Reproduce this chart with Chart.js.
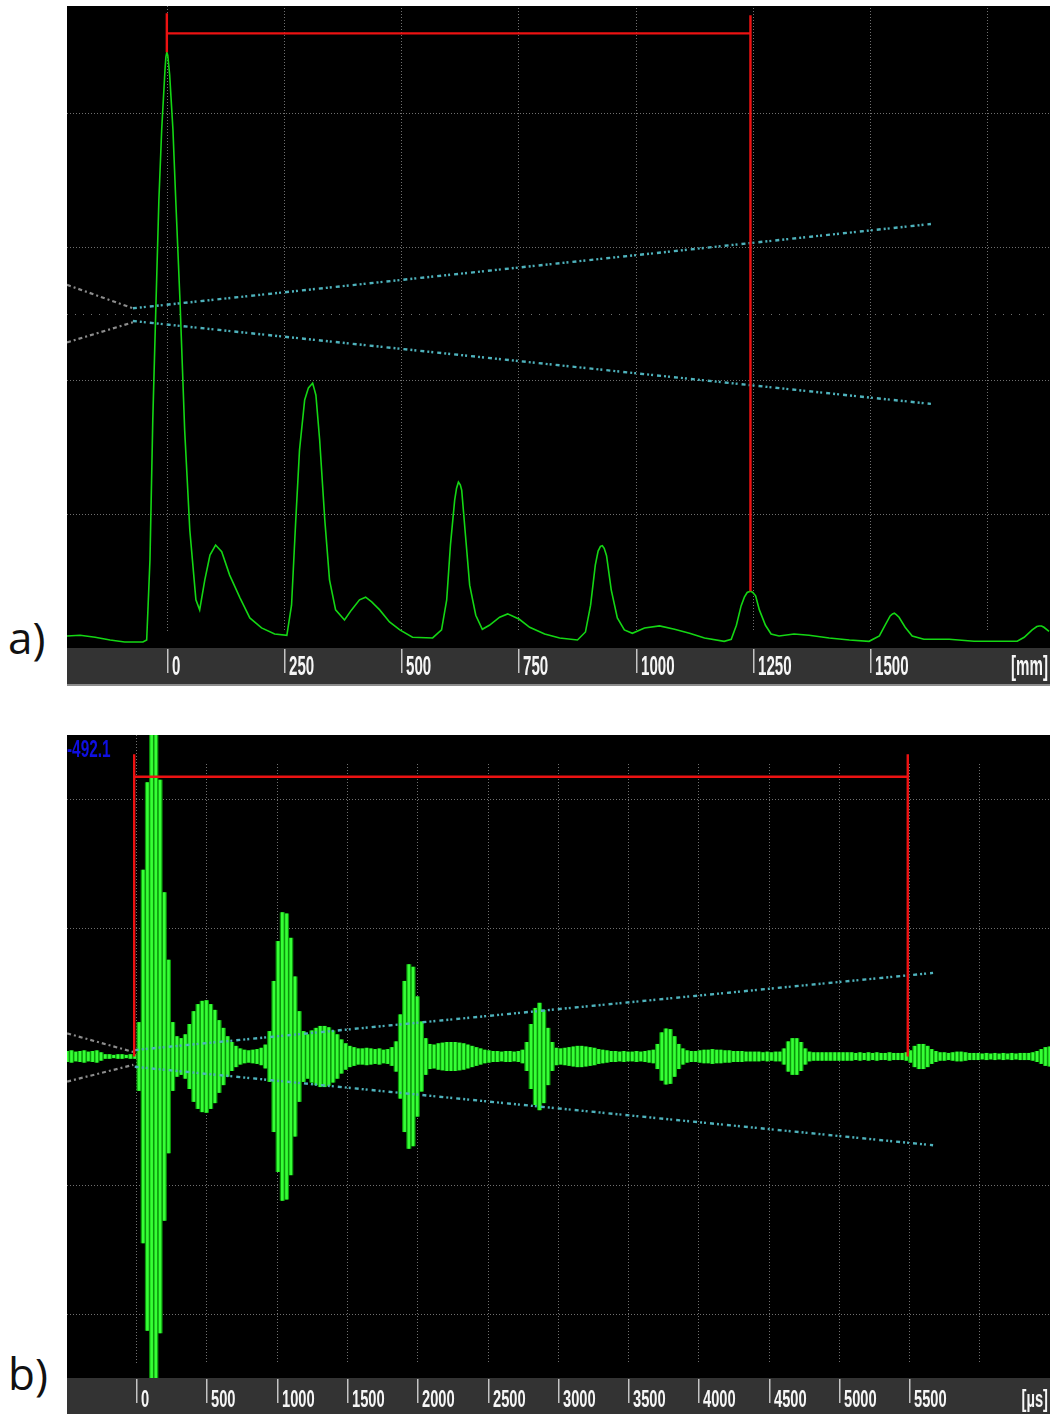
<!DOCTYPE html>
<html>
<head>
<meta charset="utf-8">
<script src="https://cdn.jsdelivr.net/npm/chart.js@4.4.1/dist/chart.umd.min.js"></script>
<style>
  body { margin: 0; background: #fff; width: 1057px; height: 1414px; position: relative; overflow: hidden; }
  .scope { position: absolute; left: 67px; }
  #scopeA { top: 6px; }
  #scopeB { top: 735px; }
  .tag { position: absolute; font-family: "Open Sans", sans-serif; font-size: 44px; line-height: 44px; color: #111; }
</style>
</head>
<body>
<div class="tag" style="left:8px;top:615px">a)</div>
<div class="tag" style="left:8px;top:1351px">b)</div>
<canvas id="scopeA" class="scope" width="983" height="680"></canvas>
<canvas id="scopeB" class="scope" width="983" height="679"></canvas>
<script>
// ---- a) rectified A-scan, distance in mm, amplitude in % screen height ----
const mmA = [-213, -185, -153, -121, -90, -51, -43, -36, -30, -23, -17, -11, -4, -2, 0, 2, 6, 13, 19, 28, 38, 49, 62, 70,
  81, 92, 104, 117, 134, 156, 177, 202, 230, 256, 266, 275, 283, 294, 302, 307, 311, 315, 318, 326, 337, 347, 360, 379,
  394, 411, 424, 437, 454, 475, 497, 524, 567, 586, 597, 605, 614, 618, 622, 626, 629, 637, 646, 659, 673, 688, 710, 727,
  752, 774, 806, 838, 876, 893, 904, 914, 920, 925, 929, 933, 938, 948, 961, 976, 993, 1019, 1051, 1083, 1115, 1147, 1189,
  1204, 1215, 1225, 1232, 1238, 1245, 1250, 1256, 1264, 1277, 1289, 1306, 1338, 1370, 1413, 1456, 1498, 1520, 1532, 1543,
  1548, 1552, 1556, 1562, 1575, 1590, 1615, 1669, 1722, 1775, 1814, 1829, 1846, 1856, 1861, 1866, 1871, 1882];
const ampA = [1.8, 1.9, 1.6, 1.2, 0.9, 0.9, 1.2, 13.2, 34.1, 52.0, 67.0, 77.5, 86.4, 88.4, 89.1, 88.6, 85.7, 77.5, 67.0, 52.0,
  32.6, 17.6, 7.2, 5.7, 10.2, 13.9, 15.4, 14.4, 10.9, 7.5, 4.5, 3.0, 2.1, 1.9, 6.4, 19.1, 29.6, 37.1, 38.9, 39.3, 39.6,
  38.6, 37.8, 31.1, 19.1, 10.2, 5.7, 4.2, 5.7, 7.2, 7.6, 6.9, 5.7, 3.9, 2.7, 1.6, 1.5, 2.7, 7.2, 15.4, 22.1, 23.9, 24.8,
  24.4, 23.6, 16.9, 9.4, 4.9, 2.8, 3.4, 4.6, 5.1, 4.3, 3.1, 2.1, 1.5, 1.2, 2.4, 6.4, 12.4, 14.5, 15.2, 15.3, 14.9, 13.8,
  8.7, 4.5, 2.7, 2.2, 3.0, 3.3, 2.8, 2.2, 1.5, 1.0, 1.3, 3.4, 6.3, 7.6, 8.3, 8.5, 8.3, 7.8, 5.7, 3.4, 2.1, 1.8, 2.1,
  1.9, 1.5, 1.2, 1.0, 1.8, 3.4, 4.8, 5.1, 5.2, 5.0, 4.6, 3.1, 1.8, 1.3, 1.3, 1.0, 1.0, 1.0, 1.6, 2.7, 3.2, 3.3, 3.3,
  3.1, 2.5];
const gridMmA = [0, 250, 500, 750, 1000, 1250, 1500, 1750];
const tickMmA = [0, 250, 500, 750, 1000, 1250, 1500];
const gridPctA = [20, 40, 60, 80];
// gate marker and the two DAC reference curves
const gateA = { start: 0, end: 1245, level: 91.9, top: 94.9 };
const dacUpperA = [[-72.5, 50.8], [1630, 63.4]];
const dacLowerA = [[-72.5, 48.9], [1630, 36.5]];
const dacLeadA = [[[-213, 54.3], [-72.5, 50.8]], [[-213, 45.7], [-72.5, 48.7]]];

// ---- b) RF signal, time in µs; peak envelope per sample in % screen height (±50) ----
const startB = -492.1;
const t0B = -490, dtB = 30;   // digitizer sample spacing
const envB = [0.8, 0.9, 0.7, 0.8, 0.9, 0.7, 0.8, 0.9, 0.6,
  0.3, 0.3, 0.2, 0.3, 0.3, 0.2, 0.3, 0.3,
  5.3, 29, 42.6, 51, 51, 43, 25.5, 15, 5.3,
  3.1, 2.8,
  3.4, 5.0, 7.0, 8.1, 8.6, 8.7, 8.1, 7.2, 5.6, 4.4, 3.1, 2.2, 1.6,
  1.2, 1.0, 0.9, 1.0, 1.1, 1.3, 1.8,
  3.9, 11.7, 17.9, 22.4, 22.2, 18.4, 12.4, 7.0, 3.9,
  3.4, 4.0, 4.4, 4.7, 4.7, 4.5, 4.0, 3.4, 2.6, 2.0,
  1.6, 1.4, 1.2, 1.2, 1.3, 1.2, 1.1, 1.2, 1.0, 1.1, 1.4,
  2.3, 6.5, 11.7, 14.3, 13.9, 9.3, 5.4, 2.8, 1.9,
  1.8, 2.0, 2.1, 2.2, 2.2, 2.2, 2.1, 2.0, 1.8, 1.6, 1.4, 1.2, 1.0, 0.9, 0.8, 0.8, 0.7, 0.8, 0.8, 0.7, 0.8, 1.0,
  2.2, 5.0, 7.5, 8.3, 7.2, 4.4, 2.2,
  1.3, 1.2, 1.3, 1.4, 1.5, 1.6, 1.6, 1.5, 1.4, 1.3, 1.1, 1.0, 0.9, 0.8, 0.8, 0.7, 0.8, 0.7, 0.7, 0.8, 0.7, 0.8, 0.9, 1.0,
  1.9, 3.7, 4.3, 4.2, 3.1, 1.9,
  1.2, 0.9, 0.8, 0.8, 0.9, 1.0, 1.0, 1.1, 1.0, 1.0, 0.9, 0.9, 0.8, 0.8, 0.8, 0.7, 0.7, 0.7, 0.7, 0.6, 0.7, 0.6, 0.7, 0.7,
  1.2, 2.3, 2.8, 2.8, 2.2, 1.2,
  0.7, 0.6, 0.6, 0.6, 0.6, 0.6, 0.6, 0.6, 0.6, 0.6, 0.6, 0.5, 0.6, 0.5, 0.6, 0.5, 0.6, 0.5, 0.5, 0.6, 0.5, 0.5, 0.5, 0.6,
  0.9, 1.6, 1.9, 1.9, 1.6, 1.1,
  0.8, 0.6, 0.6, 0.5, 0.6, 0.7, 0.7, 0.6, 0.5, 0.5, 0.5, 0.4, 0.5, 0.4, 0.5, 0.4, 0.5, 0.4, 0.5, 0.4, 0.5, 0.5, 0.5, 0.6, 0.8, 1.1, 1.4, 1.5];
const gridUsB = [0, 500, 1000, 1500, 2000, 2500, 3000, 3500, 4000, 4500, 5000, 5500, 6000, 6500];
const tickUsB = [0, 500, 1000, 1500, 2000, 2500, 3000, 3500, 4000, 4500, 5000, 5500];
const gridPctB = [-40, -20, 20, 40];
const gateB = { start: -14, end: 5490, level: 43.5, top: 47.0 };
const dacUpperB = [[-10, 1.0], [5670, 13.0]];
const dacLowerB = [[-10, -1.6], [5670, -13.8]];
const dacLeadB = [[[-491, 3.6], [-20, 0.7]], [[-491, -3.9], [-20, -1.3]]];

const RED = '#ec1212';
const TEAL = 'rgb(78,178,188)';
const GREY = 'rgb(140,140,140)';
const DASH_DAC = [4, 3, 2, 2, 2, 4];

const pts = pairs => pairs.map(([x, y]) => ({ x, y }));

function lineSet(data, color, width, order, dash) {
  return { type: 'line', data, borderColor: color, borderWidth: width, pointRadius: 0, tension: 0, order,
    borderDash: dash || [], fill: false };
}

function barSet(data, color, thickness, order) {
  return { type: 'bar', data, backgroundColor: color, borderWidth: 0, barThickness: thickness,
    grouped: false, order };
}

// draws the scope screen: black field, dotted grid, grey axis strip with labels
function scopePlugin(cfg) {
  return {
    id: 'scope',
    beforeDraw(chart) {
      const { ctx, chartArea: a, width, height } = chart;
      ctx.save();
      ctx.fillStyle = '#000';
      ctx.fillRect(0, 0, width, a.bottom);
      ctx.fillStyle = '#333';
      ctx.fillRect(0, a.bottom, width, height - a.bottom);
      if (cfg.edge) {
        ctx.fillStyle = '#8c8c8c';
        ctx.fillRect(0, height - 2, width, 2);
      }
      ctx.restore();
    },
    beforeDatasetsDraw(chart) {
      const { ctx, chartArea: a, scales: { x, y } } = chart;
      ctx.save();
      ctx.lineWidth = 1;
      ctx.strokeStyle = 'rgba(150,150,150,0.75)';
      ctx.setLineDash([1, 2]);
      cfg.gridX.forEach(v => {
        const px = Math.round(x.getPixelForValue(v)) + 0.5;
        const top = v === 0 ? a.top : a.top + cfg.vTop;
        ctx.beginPath();
        ctx.moveTo(px, top);
        ctx.lineTo(px, a.bottom - cfg.vBottom);
        ctx.stroke();
      });
      cfg.gridY.forEach(v => {
        const py = Math.round(y.getPixelForValue(v)) + 0.5;
        ctx.beginPath();
        ctx.moveTo(a.left, py);
        ctx.lineTo(a.right, py);
        ctx.stroke();
      });
      // centre line has sparser dots
      ctx.setLineDash([1, 7]);
      const cy = Math.round(y.getPixelForValue(cfg.centre)) + 0.5;
      ctx.beginPath();
      ctx.moveTo(a.left, cy);
      ctx.lineTo(a.right, cy);
      ctx.stroke();
      ctx.restore();
    },
    afterDraw(chart) {
      const { ctx, chartArea: a, scales: { x }, width } = chart;
      ctx.save();
      ctx.font = `bold ${cfg.fontSize}px "Liberation Sans", Arial, sans-serif`;
      ctx.textBaseline = 'alphabetic';
      cfg.ticks.forEach(v => {
        const px = Math.round(x.getPixelForValue(v));
        ctx.fillStyle = '#c4c4c4';
        ctx.fillRect(px, a.bottom + 1, 1.5, 24);
        ctx.fillStyle = '#f6f6f6';
        ctx.save();
        ctx.translate(px + 5, a.bottom + cfg.baseline);
        ctx.scale(cfg.squeeze, 1);
        ctx.fillText(String(v), 0, 0);
        ctx.restore();
      });
      ctx.save();
      ctx.translate(width - 2, a.bottom + cfg.baseline);
      ctx.scale(cfg.squeeze, 1);
      ctx.textAlign = 'right';
      ctx.fillStyle = '#f6f6f6';
      ctx.fillText(cfg.unit, 0, 0);
      ctx.restore();
      if (cfg.readout) {
        ctx.save();
        ctx.font = `bold 24px "Liberation Sans", Arial, sans-serif`;
        ctx.translate(0, a.top + 22);
        ctx.scale(0.64, 1);
        ctx.fillStyle = '#0f0fe0';
        ctx.fillText(cfg.readout, 0, 0);
        ctx.restore();
      }
      ctx.restore();
    }
  };
}

function scopeOptions(xMin, xMax, yMin, yMax, strip) {
  return {
    responsive: false,
    animation: false,
    devicePixelRatio: 1,
    layout: { padding: { left: 0, right: 0, top: 0, bottom: strip } },
    plugins: { legend: { display: false }, tooltip: { enabled: false } },
    scales: {
      x: { type: 'linear', min: xMin, max: xMax, display: false, offset: false },
      y: { type: 'linear', min: yMin, max: yMax, display: false }
    }
  };
}

// a) distance scan
const traceA = mmA.map((m, i) => ({ x: m, y: ampA[i] }));
new Chart(document.getElementById('scopeA'), {
  type: 'line',
  data: {
    datasets: [
      lineSet(traceA, '#14d614', 1.6, 5),
      lineSet(pts(dacLeadA[0]), GREY, 2.2, 3, [4, 3, 2, 3]),
      lineSet(pts(dacLeadA[1]), GREY, 2.2, 3, [4, 3, 2, 3]),
      lineSet(pts(dacUpperA), TEAL, 2.4, 3, DASH_DAC),
      lineSet(pts(dacLowerA), TEAL, 2.4, 3, DASH_DAC),
      lineSet([{ x: gateA.start, y: gateA.top }, { x: gateA.start, y: ampA[mmA.indexOf(gateA.start)] }], RED, 2.4, 1),
      lineSet([{ x: gateA.start, y: gateA.level }, { x: gateA.end, y: gateA.level }], RED, 2.4, 1),
      lineSet([{ x: gateA.end, y: gateA.top - 0.3 }, { x: gateA.end, y: ampA[mmA.indexOf(gateA.end)] }], RED, 2.4, 1)
    ]
  },
  options: scopeOptions(-213, 1884, 0, 96, 38),
  plugins: [scopePlugin({ gridX: gridMmA, gridY: gridPctA, centre: 50, ticks: tickMmA, unit: '[mm]',
    fontSize: 27, squeeze: 0.56, baseline: 27, edge: true, vTop: 2, vBottom: 17 })]
});

// b) time signal: each sample drawn as a min/max stroke, over a darker fill
const traceB = envB.map((e, i) => ({ x: t0B + i * dtB, y: [-e, e] }));
new Chart(document.getElementById('scopeB'), {
  type: 'line',
  data: {
    datasets: [
      barSet(traceB, 'rgb(10,150,10)', 4.4, 6),
      barSet(traceB, '#36ff36', 2, 5),
      lineSet(pts(dacLeadB[0]), GREY, 2.2, 3, [4, 3, 2, 3]),
      lineSet(pts(dacLeadB[1]), GREY, 2.2, 3, [4, 3, 2, 3]),
      lineSet(pts(dacUpperB), TEAL, 2.4, 3, DASH_DAC),
      lineSet(pts(dacLowerB), TEAL, 2.4, 3, DASH_DAC),
      lineSet([{ x: gateB.start, y: gateB.top }, { x: gateB.start, y: 0 }], RED, 2.4, 1),
      lineSet([{ x: gateB.start, y: gateB.level }, { x: gateB.end, y: gateB.level }], RED, 2.4, 1),
      lineSet([{ x: gateB.end, y: gateB.top }, { x: gateB.end, y: 0 }], RED, 2.4, 1)
    ]
  },
  options: scopeOptions(startB, startB + 983 * 7.115, -50, 50, 36),
  plugins: [scopePlugin({ gridX: gridUsB, gridY: gridPctB, centre: 0, ticks: tickUsB, unit: '[µs]',
    fontSize: 23, squeeze: 0.64, baseline: 29, edge: false, vTop: 29, vBottom: 14, readout: String(startB) })]
});
</script>
</body>
</html>
